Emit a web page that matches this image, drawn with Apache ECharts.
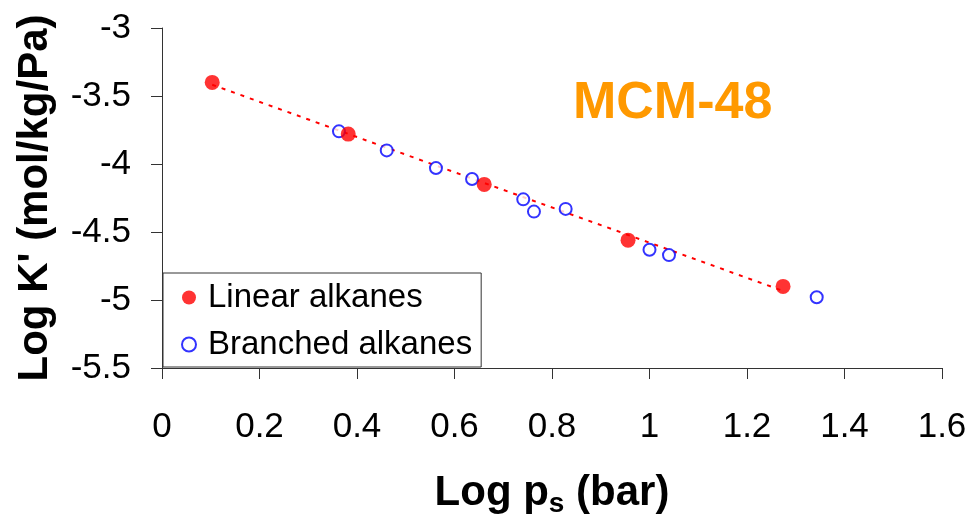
<!DOCTYPE html>
<html>
<head>
<meta charset="utf-8">
<script src="https://cdn.jsdelivr.net/npm/echarts@6/dist/echarts.min.js"></script>
<style>
  html, body { margin: 0; padding: 0; background: #fff; }
  #chart { width: 971px; height: 524px; }
</style>
</head>
<body>
<div id="chart"></div>
<script>
// linear alkanes (filled red)
var linearX = [0.103, 0.382, 0.661, 0.956, 1.274];
var linearY = [-3.40, -3.78, -4.15, -4.56, -4.90];
// branched alkanes (open blue)
var branchedX = [0.363, 0.461, 0.562, 0.636, 0.741, 0.763, 0.828, 1.000, 1.040, 1.343];
var branchedY = [-3.76, -3.90, -4.03, -4.11, -4.26, -4.35, -4.33, -4.63, -4.67, -4.98];
var xTicks = [0, 0.2, 0.4, 0.6, 0.8, 1, 1.2, 1.4, 1.6];
var yTicks = [-5.5, -5, -4.5, -4, -3.5, -3];
var titleText = "MCM-48";

var FONT = "'Liberation Sans', Arial, sans-serif";

function pairs(xs, ys) {
  return xs.map(function (x, i) { return [x, ys[i]]; });
}

// least squares trend line through the linear alkanes
function trend(xs, ys) {
  var n = xs.length, mx = 0, my = 0;
  for (var i = 0; i < n; i++) { mx += xs[i]; my += ys[i]; }
  mx /= n; my /= n;
  var sxy = 0, sxx = 0;
  for (var j = 0; j < n; j++) {
    sxy += (xs[j] - mx) * (ys[j] - my);
    sxx += (xs[j] - mx) * (xs[j] - mx);
  }
  var k = sxy / sxx, b = my - k * mx;
  var x0 = Math.min.apply(null, xs), x1 = Math.max.apply(null, xs);
  return [[x0, k * x0 + b], [x1, k * x1 + b]];
}

var myChart = echarts.init(document.getElementById("chart"));
myChart.setOption({
  animation: false,
  backgroundColor: "#fff",
  textStyle: { fontFamily: FONT },
  title: {
    text: titleText,
    left: 573,
    top: 78,
    padding: 0,
    textStyle: { color: "#ff9900", fontSize: 52, fontWeight: "bold", fontFamily: FONT }
  },
  grid: { left: 162, right: 29, top: 28, bottom: 156, containLabel: false },
  legend: {
    orient: "vertical",
    left: 163,
    top: 273,
    padding: [8, 9, 6, 18],
    itemGap: 14,
    itemWidth: 14,
    itemHeight: 14,
    borderColor: "#333",
    borderWidth: 1,
    backgroundColor: "#fff",
    textStyle: { fontSize: 33, color: "#000", fontFamily: FONT, padding: [0, 0, 0, 7] },
    data: ["Linear alkanes", "Branched alkanes"]
  },
  xAxis: {
    type: "value",
    min: xTicks[0],
    max: xTicks[xTicks.length - 1],
    interval: 0.2,
    name: "{b|Log p}{s|s}{b| (bar)}",
    nameLocation: "middle",
    nameGap: 104,
    nameTextStyle: {
      rich: {
        b: { fontSize: 42, fontWeight: "bold", color: "#000", fontFamily: FONT, lineHeight: 48, verticalAlign: "top" },
        s: { fontSize: 28, fontWeight: "bold", color: "#000", fontFamily: FONT, lineHeight: 48, verticalAlign: "top", padding: [18, 0, 0, 0] }
      }
    },
    splitLine: { show: false },
    axisLine: { onZero: false, lineStyle: { color: "#333", width: 1 } },
    axisTick: { show: true, inside: false, length: 11, lineStyle: { color: "#333" } },
    axisLabel: { fontSize: 35, color: "#000", margin: 42, fontFamily: FONT }
  },
  yAxis: {
    type: "value",
    min: yTicks[0],
    max: yTicks[yTicks.length - 1],
    interval: 0.5,
    name: "Log K' (mol/kg/Pa)",
    nameLocation: "middle",
    nameGap: 106,
    nameTextStyle: { fontSize: 42, fontWeight: "bold", color: "#000", fontFamily: FONT },
    splitLine: { show: false },
    axisLine: { show: true, onZero: false, lineStyle: { color: "#333", width: 1 } },
    axisTick: { show: true, inside: false, length: 11, lineStyle: { color: "#333" } },
    axisLabel: { fontSize: 35, color: "#000", margin: 31, fontFamily: FONT }
  },
  series: [
    {
      name: "trend",
      type: "line",
      data: trend(linearX, linearY),
      symbol: "none",
      lineStyle: { color: "#ff0000", width: 2, type: [4, 6] },
      silent: true,
      z: 1
    },
    {
      name: "Branched alkanes",
      type: "scatter",
      data: pairs(branchedX, branchedY),
      symbol: "circle",
      symbolSize: 12,
      itemStyle: { color: "#fff", borderColor: "#0000ff", borderWidth: 2 },
      z: 2
    },
    {
      name: "Linear alkanes",
      type: "scatter",
      data: pairs(linearX, linearY),
      symbol: "circle",
      symbolSize: 15,
      itemStyle: { color: "#ff0000" },
      z: 3
    }
  ]
});
</script>
</body>
</html>
